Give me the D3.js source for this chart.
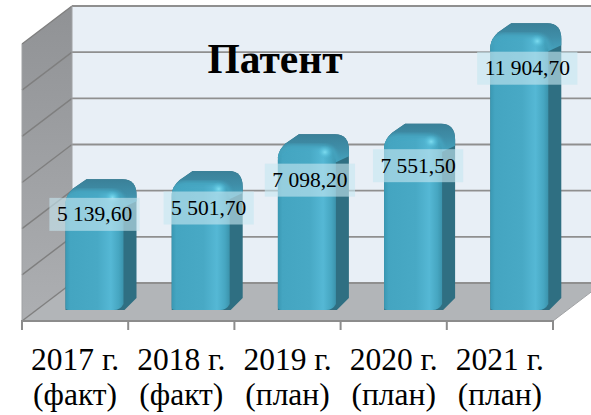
<!DOCTYPE html>
<html lang="en">
<head>
<meta charset="UTF-8">
<title>Патент</title>
<script src="https://d3js.org/d3.v7.js"></script>
<style>
    html, body { margin: 0; padding: 0; background: #fff; overflow: hidden; }
    text { font-family: "Liberation Serif", serif; fill: #000; }
</style>
</head>
<body>
<svg width="591" height="415"></svg>
<script>
    const years = ["2017 г.", "2018 г.", "2019 г.", "2020 г.", "2021 г."];
    const kinds = ["(факт)", "(факт)", "(план)", "(план)", "(план)"];
    const values = [5139.6, 5501.7, 7098.2, 7551.5, 11904.7];
    const valueLabels = ["5 139,60", "5 501,70", "7 098,20", "7 551,50", "11 904,70"];
    // hand placed labels in the original, offsets from the bar top and bar centre
    const labelDrop = [35, 37, 46, 42, 45];
    const labelShift = [0, 8, 3, 5, 8];

    // fake 3d box
    const left = 22, right = 553, floorY = 321, topY = 44;
    const depthX = 50, depthY = 38;
    const barDepthX = 13, barDepthY = 12, barWidth = 58;
    const barOffset = 43.5;

    const x = d3.scaleBand().domain(years).range([left, right]);
    // scale is for the back wall
    const y = d3.scaleLinear().domain([0, 12000]).range([floorY - depthY, topY - depthY]);

    const svg = d3.select("svg");
    const defs = svg.append("defs");

    const frontGrad = defs.append("linearGradient").attr("id", "front");
    [[0, "#3a98b3"], [0.08, "#44a5c1"], [0.55, "#48a9c5"], [0.78, "#55b8d5"], [0.92, "#46a6c1"], [1, "#3b93ac"]]
        .forEach(s => frontGrad.append("stop").attr("offset", s[0]).attr("stop-color", s[1]));

    const topGrad = defs.append("linearGradient").attr("id", "capTop").attr("x1", 0).attr("x2", 0).attr("y1", 0).attr("y2", 1);
    [[0, "#3a8098"], [0.5, "#3f8ea8"], [1, "#45a3be"]]
        .forEach(s => topGrad.append("stop").attr("offset", s[0]).attr("stop-color", s[1]));

    const shine = defs.append("radialGradient").attr("id", "shine");
    [[0, "#7ddcf0", 1], [0.5, "#5cc2dc", 0.7], [1, "#4cb0cc", 0]]
        .forEach(s => shine.append("stop").attr("offset", s[0]).attr("stop-color", s[1]).attr("stop-opacity", s[2]));

    const wallGrad = defs.append("linearGradient").attr("id", "sideWall").attr("x1", 0).attr("x2", 0).attr("y1", 0).attr("y2", 1);
    [[0, "#909295"], [1, "#adafb2"]]
        .forEach(s => wallGrad.append("stop").attr("offset", s[0]).attr("stop-color", s[1]));

    defs.append("filter").attr("id", "soft")
        .attr("x", "-20%").attr("y", "-20%").attr("width", "140%").attr("height", "140%")
        .append("feGaussianBlur").attr("stdDeviation", 1.6);

    const poly = pts => "M" + pts.map(p => p.join(",")).join("L") + "Z";

    // walls and floor
    svg.append("path")
        .attr("d", poly([[left + depthX, topY - depthY], [right + depthX, topY - depthY], [right + depthX, floorY - depthY], [left + depthX, floorY - depthY]]))
        .attr("fill", "#e8eff6");
    svg.append("path")
        .attr("d", poly([[left, topY], [left + depthX, topY - depthY], [left + depthX, floorY - depthY], [left, floorY]]))
        .attr("fill", "url(#sideWall)");
    svg.append("path")
        .attr("d", poly([[left, floorY], [left + depthX, floorY - depthY], [right + depthX, floorY - depthY], [right, floorY]]))
        .attr("fill", "#b2b5b8");

    // gridlines
    const grid = svg.append("g").attr("fill", "none").attr("stroke", "#8f8f8f");
    grid.selectAll(".back")
        .data(y.ticks(6))
        .join("line")
        .attr("class", "back")
        .attr("x1", left + depthX).attr("x2", right + depthX)
        .attr("y1", d => y(d)).attr("y2", d => y(d))
        .attr("stroke-width", 1.8);
    grid.selectAll(".side")
        .data(y.ticks(6))
        .join("line")
        .attr("class", "side")
        .attr("x1", left).attr("x2", left + depthX)
        .attr("y1", d => y(d) + depthY).attr("y2", d => y(d))
        .attr("stroke", "#7f7f7f")
        .attr("stroke-width", 1.4);
    grid.append("line")
        .attr("x1", left + depthX).attr("x2", left + depthX)
        .attr("y1", topY - depthY).attr("y2", floorY - depthY)
        .attr("stroke", "#a0a2a4");
    grid.append("line")
        .attr("x1", right).attr("x2", right + depthX)
        .attr("y1", floorY).attr("y2", floorY - depthY)
        .attr("stroke", "#a0a2a4");
    grid.append("line")
        .attr("x1", left).attr("x2", left)
        .attr("y1", topY).attr("y2", floorY)
        .attr("stroke", "#a0a2a4");

    // category axis, ticks sit on the band edges
    const axis = svg.append("g").attr("stroke", "#8c8c8c").attr("stroke-width", 2);
    axis.append("line").attr("x1", left - 1).attr("x2", right + 1).attr("y1", floorY).attr("y2", floorY);
    axis.selectAll(".tick")
        .data(years.map(d => x(d)).concat([right]))
        .join("line")
        .attr("class", "tick")
        .attr("x1", d => d).attr("x2", d => d)
        .attr("y1", floorY).attr("y2", floorY + 9);

    // bars
    const bars = svg.selectAll(".bar")
        .data(values)
        .join("g")
        .attr("class", "bar")
        .attr("transform", (d, i) => "translate(" + (x(years[i]) + barOffset) + ",0)");

    const bottom = floorY - 11;

    bars.each(function (d, i) {
        const g = d3.select(this);
        const backTop = y(d) + 15;      // top back edge of the bar
        const frontTop = backTop + barDepthY;
        const w = barWidth, dx = barDepthX, dy = barDepthY;

        // whole silhouette in the side colour
        const body = d3.path();
        body.moveTo(0, bottom);
        body.lineTo(0, frontTop + 11);
        body.quadraticCurveTo(1, frontTop + 3, 8, frontTop - 3);
        body.lineTo(21, backTop);
        body.lineTo(w + dx - 14, backTop);
        body.quadraticCurveTo(w + dx, backTop, w + dx, backTop + 16);
        body.lineTo(w + dx, bottom - dy);
        body.lineTo(w + 1, bottom);
        body.closePath();
        g.append("path").attr("d", body.toString()).attr("fill", "#2f6f82");
        defs.append("clipPath").attr("id", "bar" + i)
            .append("path").attr("d", body.toString());

        // top face
        const cap = d3.path();
        cap.moveTo(0, frontTop + 11);
        cap.quadraticCurveTo(1, frontTop + 3, 8, frontTop - 3);
        cap.lineTo(21, backTop);
        cap.lineTo(w + dx - 14, backTop);
        cap.quadraticCurveTo(w + dx, backTop, w + dx, backTop + 16);
        cap.lineTo(w + dx, backTop + 22);
        cap.lineTo(w, frontTop + 16);
        cap.closePath();
        g.append("path").attr("d", cap.toString()).attr("fill", "url(#capTop)");

        // front face
        const front = d3.path();
        front.moveTo(3, bottom);
        front.quadraticCurveTo(0, bottom, 0, bottom - 3);
        front.lineTo(0, frontTop + 14);
        front.quadraticCurveTo(0, frontTop + 1, 14, frontTop);
        front.lineTo(w - 14, frontTop);
        front.quadraticCurveTo(w, frontTop, w, frontTop + 14);
        front.lineTo(w, bottom - 6);
        front.quadraticCurveTo(w - 3, bottom, w - 10, bottom);
        front.closePath();
        g.append("path").attr("d", front.toString()).attr("fill", "url(#front)");

        // soften the crease between the top and the front
        const crease = d3.path();
        crease.moveTo(0, frontTop + 14);
        crease.quadraticCurveTo(0, frontTop + 1, 14, frontTop);
        crease.lineTo(w - 14, frontTop);
        crease.quadraticCurveTo(w, frontTop, w, frontTop + 14);
        g.append("g").attr("clip-path", "url(#bar" + i + ")")
            .append("path").attr("d", crease.toString())
            .attr("fill", "none").attr("stroke", "#45a3be").attr("stroke-width", 4)
            .attr("filter", "url(#soft)");

        // glint at the corner
        g.append("ellipse")
            .attr("cx", w - 11).attr("cy", frontTop + 6)
            .attr("rx", 8).attr("ry", 7)
            .attr("fill", "url(#shine)");
    });

    // value labels
    const labelH = 33;
    const labels = svg.selectAll(".valueLabel")
        .data(values)
        .join("g")
        .attr("class", "valueLabel")
        .attr("transform", (d, i) => "translate(" + (x(years[i]) + barOffset + 29 + labelShift[i]) + "," + (y(d) + 15 + labelDrop[i]) + ")");

    labels.append("text")
        .attr("class", "lbl")
        .attr("text-anchor", "middle")
        .attr("y", 7)
        .attr("font-size", 21.5)
        .text((d, i) => valueLabels[i]);

    labels.each(function () {
        const t = d3.select(this).select("text");
        const w = t.node().getComputedTextLength() + 15;
        d3.select(this).insert("rect", "text")
            .attr("x", -w / 2).attr("y", -labelH / 2)
            .attr("width", w).attr("height", labelH)
            .attr("fill", "#c6e6f0").attr("fill-opacity", 0.62);
    });

    // category labels
    const cats = svg.selectAll(".cat")
        .data(years)
        .join("text")
        .attr("class", "cat")
        .attr("text-anchor", "middle")
        .attr("font-size", 31.5)
        .attr("x", d => x(d) + x.bandwidth() / 2)
        .attr("y", 370);
    cats.append("tspan").text(d => d);
    cats.append("tspan")
        .attr("x", d => x(d) + x.bandwidth() / 2)
        .attr("dy", 35)
        .text((d, i) => kinds[i]);

    svg.append("text")
        .attr("x", 275).attr("y", 73)
        .attr("text-anchor", "middle")
        .attr("font-size", 41.5)
        .attr("font-weight", "bold")
        .text("Патент");
</script>
</body>
</html>
